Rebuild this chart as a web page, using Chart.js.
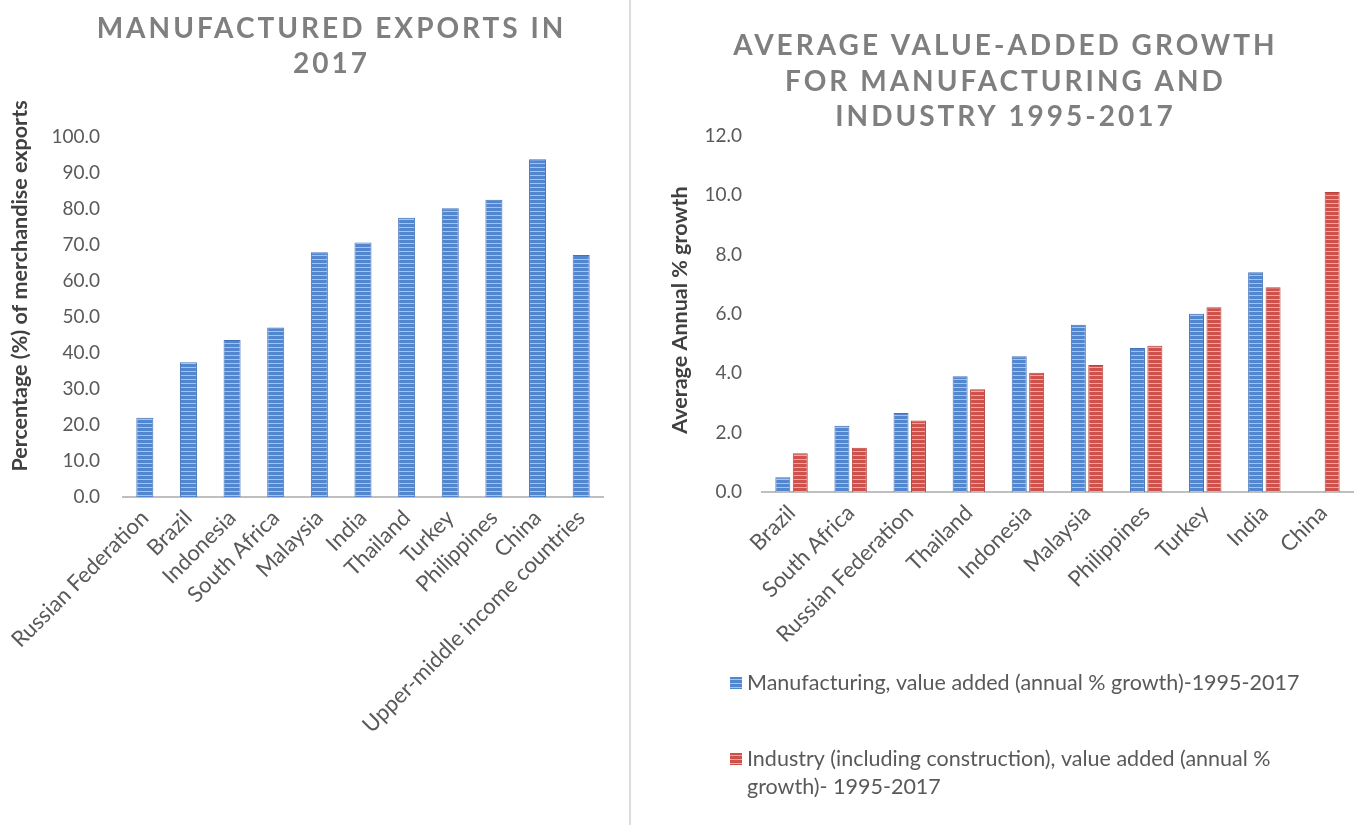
<!DOCTYPE html>
<html>
<head>
<meta charset="utf-8">
<script src="https://cdn.jsdelivr.net/npm/chart.js@4.4.1/dist/chart.umd.min.js"></script>
<style>
  html, body { margin: 0; padding: 0; background: #ffffff; }
  #wrap { position: relative; width: 1360px; height: 825px; overflow: hidden; }
  .panel { position: absolute; top: 0; height: 825px; }
  #left { left: 0; width: 630px; }
  #right { left: 632px; width: 728px; }
  #divider { position: absolute; left: 629px; top: 0; width: 2px; height: 825px; background: #dcdcdc; }
</style>
</head>
<body>
<div id="wrap">
  <div class="panel" id="left"><canvas id="exports" width="630" height="825"></canvas></div>
  <div id="divider"></div>
  <div class="panel" id="right"><canvas id="growth" width="728" height="825"></canvas></div>
</div>
<script>
// Manufactured exports, % of merchandise exports, 2017
const exportCountries = ['Russian Federation', 'Brazil', 'Indonesia', 'South Africa', 'Malaysia', 'India',
  'Thailand', 'Turkey', 'Philippines', 'China', 'Upper-middle income countries'];
const exportShare = [22.0, 37.4, 43.6, 47.1, 68.0, 70.7, 77.6, 80.2, 82.6, 93.8, 67.2];

// Average annual value-added growth, 1995-2017
const growthCountries = ['Brazil', 'South Africa', 'Russian Federation', 'Thailand', 'Indonesia',
  'Malaysia', 'Philippines', 'Turkey', 'India', 'China'];
const manufacturingGrowth = [0.50, 2.23, 2.66, 3.90, 4.58, 5.64, 4.85, 6.01, 7.41, null];
const industryGrowth = [1.31, 1.49, 2.41, 3.46, 4.02, 4.28, 4.93, 6.23, 6.90, 10.11];

const seriesNames = ['Manufacturing, value added (annual % growth)-1995-2017',
  'Industry (including construction), value added (annual % growth)- 1995-2017'];

const exportsTitle = ['MANUFACTURED EXPORTS IN', '2017'];
const growthTitle = ['AVERAGE VALUE-ADDED GROWTH', 'FOR MANUFACTURING AND', 'INDUSTRY 1995-2017'];
const exportsAxisTitle = 'Percentage (%) of merchandise exports';
const growthAxisTitle = 'Average Annual % growth';

const FAMILY = 'Lato, "Open Sans", sans-serif';
Chart.defaults.font.family = FAMILY;
Chart.defaults.color = '#595959';
Chart.defaults.animation = false;

// horizontally striped fill used for the bars
function stripes(base, light) {
  const c = document.createElement('canvas');
  c.width = 4; c.height = 4;
  const g = c.getContext('2d');
  g.fillStyle = base; g.fillRect(0, 0, 4, 4);
  g.fillStyle = light; g.fillRect(0, 3, 4, 1);
  return g.createPattern(c, 'repeat');
}
const blueFill = stripes('#5287cf', '#a7c3ea');
const redFill = stripes('#cf514c', '#eda7a4');

// spaced, multi-line heading plus a rotated value-axis caption
const captions = {
  id: 'captions',
  afterDraw(chart, args, o) {
    const ctx = chart.ctx;
    ctx.save();
    ctx.font = o.headFont;
    ctx.fillStyle = o.headColor;
    ctx.textAlign = 'center';
    ctx.textBaseline = 'middle';
    if ('letterSpacing' in ctx) ctx.letterSpacing = o.spacing + 'px';
    o.lines.forEach((t, i) => ctx.fillText(t, o.x + o.spacing / 2, o.y + i * o.lineHeight));
    ctx.restore();

    ctx.save();
    ctx.font = o.axisFont;
    ctx.fillStyle = o.axisColor;
    ctx.textAlign = 'center';
    ctx.textBaseline = 'middle';
    ctx.translate(o.axisX, o.axisY);
    ctx.rotate(-Math.PI / 2);
    ctx.fillText(o.axisText, 0, 0);
    ctx.restore();
  }
};

// legend stacked vertically under the category axis, with wrapped text
const stackedLegend = {
  id: 'stackedLegend',
  afterDraw(chart, args, o) {
    if (!o.display) return;
    const ctx = chart.ctx;
    const xs = chart.scales.x;
    ctx.save();
    ctx.font = o.font;
    ctx.textBaseline = 'middle';
    ctx.textAlign = 'left';
    let y = xs.bottom + o.gap;
    chart.data.datasets.forEach(ds => {
      const words = ds.label.split(' ');
      const lines = [];
      let cur = '';
      words.forEach(w => {
        const test = cur ? cur + ' ' + w : w;
        if (cur && ctx.measureText(test).width > o.maxWidth) { lines.push(cur); cur = w; }
        else cur = test;
      });
      lines.push(cur);
      ctx.fillStyle = ds.backgroundColor;
      ctx.fillRect(o.x, y - o.box / 2, o.box, o.box);
      ctx.fillStyle = o.color;
      lines.forEach((l, i) => ctx.fillText(l, o.x + o.box + 5, y + i * o.lineHeight));
      y += o.itemGap;
    });
    ctx.restore();
  }
};

const valueTickFont = { size: 19 };
const categoryTickFont = { size: 22 };
const headFont = 'bold 28px ' + FAMILY;
const axisFont = 'bold 21.5px ' + FAMILY;

new Chart(document.getElementById('exports'), {
  type: 'bar',
  data: {
    labels: exportCountries,
    datasets: [{
      label: 'Manufactured exports',
      data: exportShare,
      backgroundColor: blueFill,
      borderColor: '#4273b8',
      borderWidth: { left: 1, right: 1, top: 1, bottom: 0 },
      categoryPercentage: 1,
      barPercentage: 0.39
    }]
  },
  options: {
    responsive: false,
    layout: { padding: { top: 137, left: 0, right: 27, bottom: 0 } },
    plugins: {
      legend: { display: false },
      tooltip: { enabled: false },
      captions: {
        lines: exportsTitle, headFont: headFont, headColor: '#7f7f7f', spacing: 3, x: 330, y: 29, lineHeight: 35,
        axisText: exportsAxisTitle, axisFont: axisFont, axisColor: '#404040', axisX: 20, axisY: 286
      },
      stackedLegend: { display: false }
    },
    scales: {
      x: {
        grid: { display: false, drawTicks: false },
        border: { display: true, color: '#bfbfbf', width: 2 },
        ticks: { font: categoryTickFont, color: '#595959', minRotation: 45, maxRotation: 45, autoSkip: false, padding: 8 },
        afterFit: s => { s.height = 328; }
      },
      y: {
        min: 0, max: 100,
        grid: { display: false, drawTicks: false },
        border: { display: false },
        ticks: { stepSize: 10, font: valueTickFont, color: '#595959', padding: 23, callback: v => v.toFixed(1) },
        afterFit: s => { s.width = 123; }
      }
    }
  },
  plugins: [captions, stackedLegend]
});

new Chart(document.getElementById('growth'), {
  type: 'bar',
  data: {
    labels: growthCountries,
    datasets: [{
      label: seriesNames[0],
      data: manufacturingGrowth,
      backgroundColor: blueFill,
      borderColor: '#4273b8',
      borderWidth: { left: 1, right: 1, top: 1, bottom: 0 },
      categoryPercentage: 0.59,
      barPercentage: 0.86
    }, {
      label: seriesNames[1],
      data: industryGrowth,
      backgroundColor: redFill,
      borderColor: '#b8423e',
      borderWidth: { left: 1, right: 1, top: 1, bottom: 0 },
      categoryPercentage: 0.59,
      barPercentage: 0.86
    }]
  },
  options: {
    responsive: false,
    layout: { padding: { top: 136, left: 0, right: 7, bottom: 163 } },
    plugins: {
      legend: { display: false },
      tooltip: { enabled: false },
      captions: {
        lines: growthTitle, headFont: headFont, headColor: '#7f7f7f', spacing: 3, x: 372, y: 46, lineHeight: 35.5,
        axisText: growthAxisTitle, axisFont: axisFont, axisColor: '#404040', axisX: 48, axisY: 310
      },
      stackedLegend: { display: true, font: '21.5px ' + FAMILY, color: '#595959', x: 98, box: 12, gap: 21, itemGap: 76, lineHeight: 28, maxWidth: 560 }
    },
    scales: {
      x: {
        grid: { display: false, drawTicks: false },
        border: { display: true, color: '#bfbfbf', width: 2 },
        ticks: { font: categoryTickFont, color: '#595959', minRotation: 45, maxRotation: 45, autoSkip: false, padding: 8 },
        afterFit: s => { s.height = 170; }
      },
      y: {
        min: 0, max: 12,
        grid: { display: false, drawTicks: false },
        border: { display: false },
        ticks: { stepSize: 2, font: valueTickFont, color: '#595959', padding: 20, callback: v => v.toFixed(1) },
        afterFit: s => { s.width = 130; }
      }
    }
  },
  plugins: [captions, stackedLegend]
});
</script>
</body>
</html>
